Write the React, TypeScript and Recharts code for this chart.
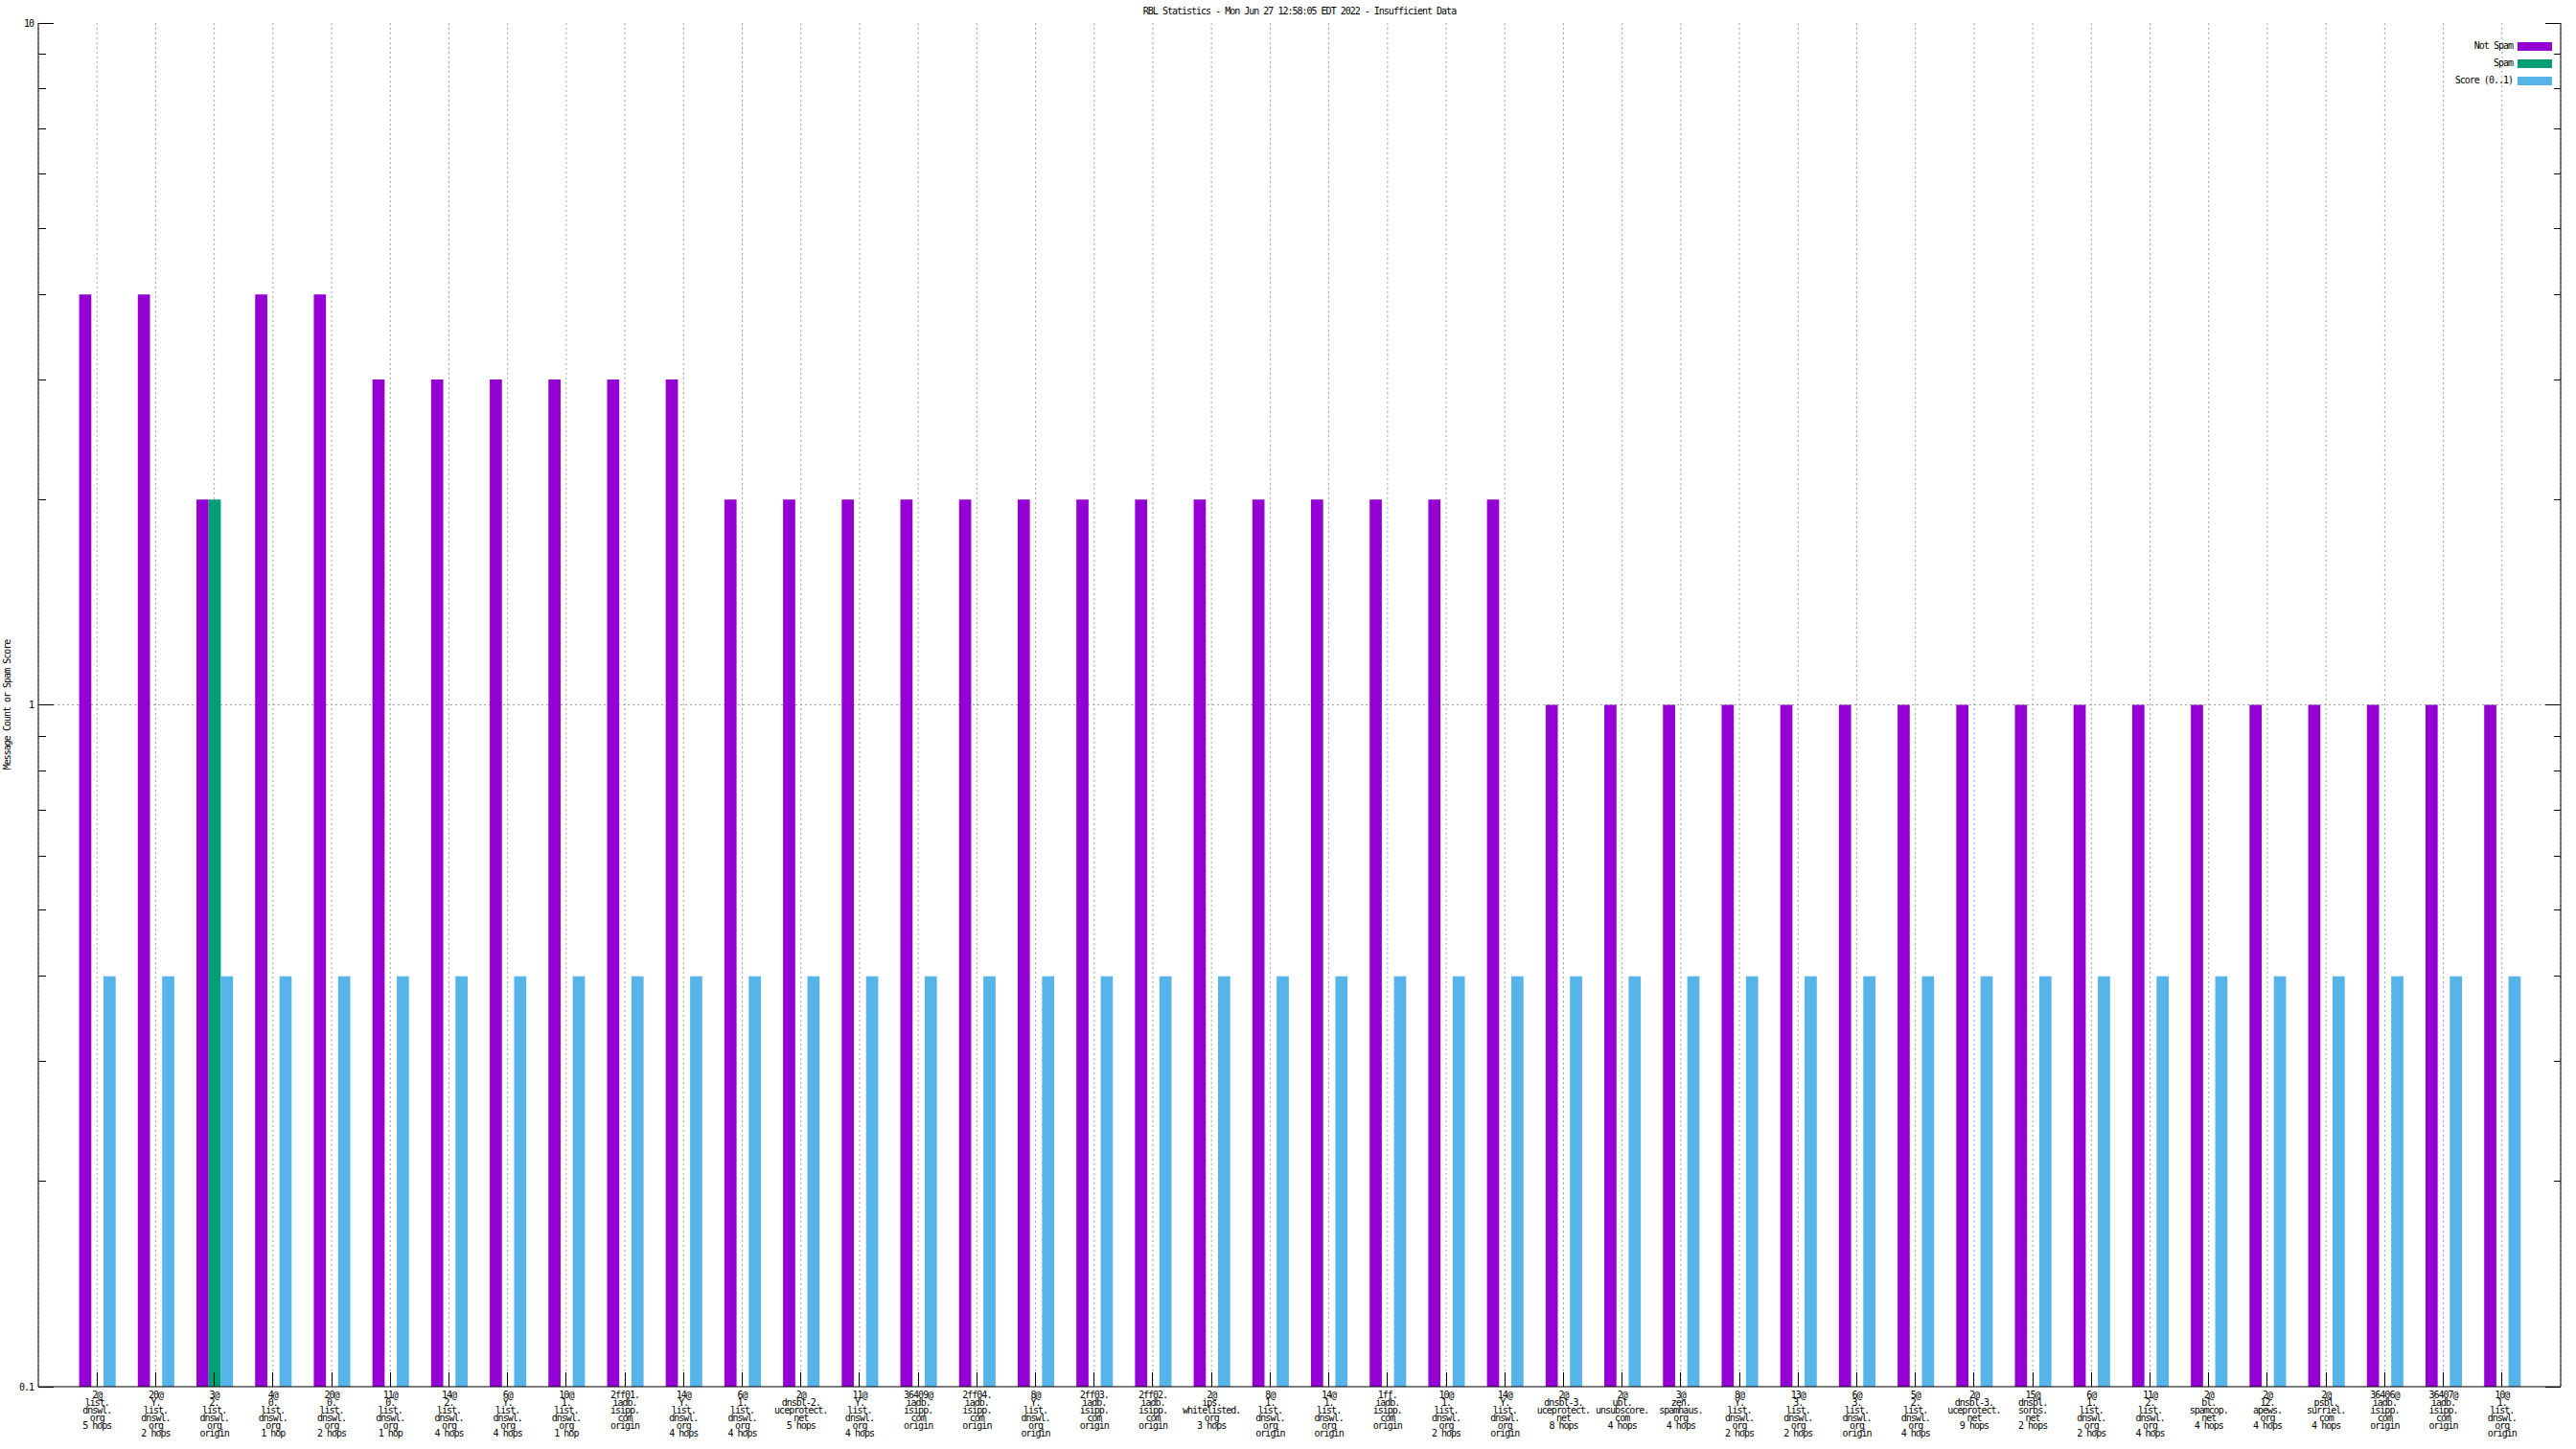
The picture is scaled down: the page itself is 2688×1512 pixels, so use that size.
import React from 'react';
import { BarChart, Bar, XAxis, YAxis, CartesianGrid, Legend } from 'recharts';

const labels = [
  '2@\nlist.\ndnswl.\norg\n5 hops',
  '20@\nY.\nlist.\ndnswl.\norg\n2 hops',
  '3@\n2.\nlist.\ndnswl.\norg\norigin',
  '4@\n0.\nlist.\ndnswl.\norg\n1 hop',
  '20@\n0.\nlist.\ndnswl.\norg\n2 hops',
  '11@\n0.\nlist.\ndnswl.\norg\n1 hop',
  '14@\n2.\nlist.\ndnswl.\norg\n4 hops',
  '6@\nY.\nlist.\ndnswl.\norg\n4 hops',
  '10@\n1.\nlist.\ndnswl.\norg\n1 hop',
  '2ff01.\niadb.\nisipp.\ncom\norigin',
  '14@\nY.\nlist.\ndnswl.\norg\n4 hops',
  '6@\n1.\nlist.\ndnswl.\norg\n4 hops',
  '2@\ndnsbl-2.\nuceprotect.\nnet\n5 hops',
  '11@\nY.\nlist.\ndnswl.\norg\n4 hops',
  '36409@\niadb.\nisipp.\ncom\norigin',
  '2ff04.\niadb.\nisipp.\ncom\norigin',
  '8@\nY.\nlist.\ndnswl.\norg\norigin',
  '2ff03.\niadb.\nisipp.\ncom\norigin',
  '2ff02.\niadb.\nisipp.\ncom\norigin',
  '2@\nips.\nwhitelisted.\norg\n3 hops',
  '8@\n1.\nlist.\ndnswl.\norg\norigin',
  '14@\n1.\nlist.\ndnswl.\norg\norigin',
  '1ff.\niadb.\nisipp.\ncom\norigin',
  '10@\n1.\nlist.\ndnswl.\norg\n2 hops',
  '14@\nY.\nlist.\ndnswl.\norg\norigin',
  '2@\ndnsbl-3.\nuceprotect.\nnet\n8 hops',
  '2@\nubl.\nunsubscore.\ncom\n4 hops',
  '3@\nzen.\nspamhaus.\norg\n4 hops',
  '8@\nY.\nlist.\ndnswl.\norg\n2 hops',
  '13@\n3.\nlist.\ndnswl.\norg\n2 hops',
  '6@\n3.\nlist.\ndnswl.\norg\norigin',
  '5@\n2.\nlist.\ndnswl.\norg\n4 hops',
  '2@\ndnsbl-3.\nuceprotect.\nnet\n9 hops',
  '15@\ndnsbl.\nsorbs.\nnet\n2 hops',
  '6@\n1.\nlist.\ndnswl.\norg\n2 hops',
  '11@\n2.\nlist.\ndnswl.\norg\n4 hops',
  '2@\nbl.\nspamcop.\nnet\n4 hops',
  '2@\n12.\napews.\norg\n4 hops',
  '2@\npsbl.\nsurriel.\ncom\n4 hops',
  '36406@\niadb.\nisipp.\ncom\norigin',
  '36407@\niadb.\nisipp.\ncom\norigin',
  '10@\n1.\nlist.\ndnswl.\norg\norigin',
];

const notSpam = [
  4, 4, 2, 4, 4, 3, 3, 3, 3, 3, 3,
  2, 2, 2, 2, 2, 2, 2, 2, 2, 2, 2, 2, 2, 2,
  1, 1, 1, 1, 1, 1, 1, 1, 1, 1, 1, 1, 1, 1, 1, 1, 1,
];

const spam = [
  null, null, 2, null, null, null, null, null, null, null, null,
  null, null, null, null, null, null, null, null, null, null, null, null, null, null,
  null, null, null, null, null, null, null, null, null, null, null, null, null, null, null, null, null,
];

const score = [
  0.4, 0.4, 0.4, 0.4, 0.4, 0.4, 0.4, 0.4, 0.4, 0.4, 0.4,
  0.4, 0.4, 0.4, 0.4, 0.4, 0.4, 0.4, 0.4, 0.4, 0.4, 0.4, 0.4, 0.4, 0.4,
  0.4, 0.4, 0.4, 0.4, 0.4, 0.4, 0.4, 0.4, 0.4, 0.4, 0.4, 0.4, 0.4, 0.4, 0.4, 0.4, 0.4,
];

const seriesNames = ['Not Spam', 'Spam', 'Score (0..1)'];

const yTicks = [
  0.1, 0.2, 0.3, 0.4, 0.5, 0.6, 0.7, 0.8, 0.9,
  1, 2, 3, 4, 5, 6, 7, 8, 9, 10,
];
const majorTicks = [0.1, 1, 10];

const data = labels.map((name, i) => ({
  name,
  notSpam: notSpam[i],
  spam: spam[i],
  score: score[i],
}));

const font: React.CSSProperties = {
  fontFamily: '"DejaVu Sans Mono", monospace',
  fontSize: 10,
  letterSpacing: -1,
};

const BottomTick = (props: any) => {
  const { x, y, payload } = props;
  const lines = String(payload.value).split('\n');
  return (
    <g>
      <line x1={x} y1={y} x2={x} y2={y - 15} stroke="#000" shapeRendering="crispEdges" />
      <text x={x} y={y + 11.5} textAnchor="middle" fill="#000" style={font}>
        {lines.map((l, i) => (
          <tspan key={i} x={x} dy={i === 0 ? 0 : 8.1}>
            {l}
          </tspan>
        ))}
      </text>
    </g>
  );
};

const TopTick = (props: any) => {
  const { x, y } = props;
  return <line x1={x} y1={y} x2={x} y2={y + 15} stroke="#000" shapeRendering="crispEdges" />;
};

const LeftTick = (props: any) => {
  const { x, y, payload } = props;
  const major = majorTicks.includes(payload.value);
  return (
    <g>
      <line x1={x} y1={y} x2={x + (major ? 16 : 8)} y2={y} stroke="#000" shapeRendering="crispEdges" />
      {major && (
        <text x={x - 5} y={y} dy="0.35em" textAnchor="end" fill="#000" style={font}>
          {String(payload.value)}
        </text>
      )}
    </g>
  );
};

const RightTick = (props: any) => {
  const { x, y, payload } = props;
  const major = majorTicks.includes(payload.value);
  return <line x1={x} y1={y} x2={x - (major ? 16 : 7)} y2={y} stroke="#000" shapeRendering="crispEdges" />;
};

const YLabel = (props: any) => {
  const { viewBox } = props;
  const x = 7.5;
  const y = viewBox.y + viewBox.height / 2;
  return (
    <text
      x={x}
      y={y}
      textAnchor="middle"
      dominantBaseline="central"
      transform={`rotate(-90, ${x}, ${y})`}
      fill="#000"
      style={font}
    >
      Message Count or Spam Score
    </text>
  );
};

const LegendContent = ({ payload }: any) => {
  const items = [...(payload ?? [])].sort(
    (a: any, b: any) => seriesNames.indexOf(a.value) - seriesNames.indexOf(b.value)
  );
  return (
    <div style={{ ...font, color: '#000' }}>
      {items.map((entry: any) => (
        <div
          key={entry.value}
          style={{ display: 'flex', justifyContent: 'flex-end', alignItems: 'center', height: 18 }}
        >
          <span style={{ marginRight: 5, lineHeight: '18px' }}>{entry.value}</span>
          <span style={{ display: 'inline-block', width: 36, height: 9, background: entry.color }} />
        </div>
      ))}
    </div>
  );
};

export default function App() {
  return (
    <div style={{ position: 'absolute', left: 0, top: 0, width: 2688, height: 1512, background: '#fff' }}>
      <div
        style={{
          ...font,
          position: 'absolute',
          left: 40,
          width: 2632,
          top: 6,
          lineHeight: '12px',
          textAlign: 'center',
          color: '#000',
        }}
      >
        RBL Statistics - Mon Jun 27 12:58:05 EDT 2022 - Insufficient Data
      </div>
      <BarChart
        width={2688}
        height={1512}
        data={data}
        margin={{ top: 24, right: 0, bottom: 0, left: 0 }}
        barSize={12.7}
        barGap={0}
      >
        <CartesianGrid
          stroke="#a0a0a0"
          strokeDasharray="2 3"
          horizontalValues={[1]}
        />
        <XAxis
          dataKey="name"
          height={65}
          interval={0}
          padding={{ left: 30.6, right: 30.6 }}
          tickSize={0}
          tickMargin={0}
          tickLine={false}
          tick={<BottomTick />}
          axisLine={{ stroke: '#000' }}
        />
        <XAxis
          xAxisId="top"
          orientation="top"
          dataKey="name"
          height={0}
          interval={0}
          padding={{ left: 30.6, right: 30.6 }}
          tickSize={0}
          tickMargin={0}
          tickLine={false}
          tick={<TopTick />}
          axisLine={{ stroke: '#000' }}
        />
        <YAxis
          width={40}
          scale="log"
          domain={[0.1, 10]}
          allowDataOverflow
          ticks={yTicks}
          interval={0}
          tickSize={0}
          tickMargin={0}
          tickLine={false}
          tick={<LeftTick />}
          axisLine={{ stroke: '#000' }}
          label={<YLabel />}
        />
        <YAxis
          yAxisId="right"
          orientation="right"
          width={16}
          scale="log"
          domain={[0.1, 10]}
          allowDataOverflow
          ticks={yTicks}
          interval={0}
          tickSize={0}
          tickMargin={0}
          tickLine={false}
          tick={<RightTick />}
          axisLine={{ stroke: '#000' }}
        />
        <Legend
          layout="vertical"
          align="center"
          verticalAlign="middle"
          wrapperStyle={{ top: 39, left: 2500, width: 163 }}
          content={<LegendContent />}
        />
        <Bar dataKey="notSpam" name={seriesNames[0]} fill="#9400d3" isAnimationActive={false} />
        <Bar dataKey="spam" name={seriesNames[1]} fill="#009e73" isAnimationActive={false} />
        <Bar dataKey="score" name={seriesNames[2]} fill="#56b4e9" isAnimationActive={false} />
      </BarChart>
    </div>
  );
}
